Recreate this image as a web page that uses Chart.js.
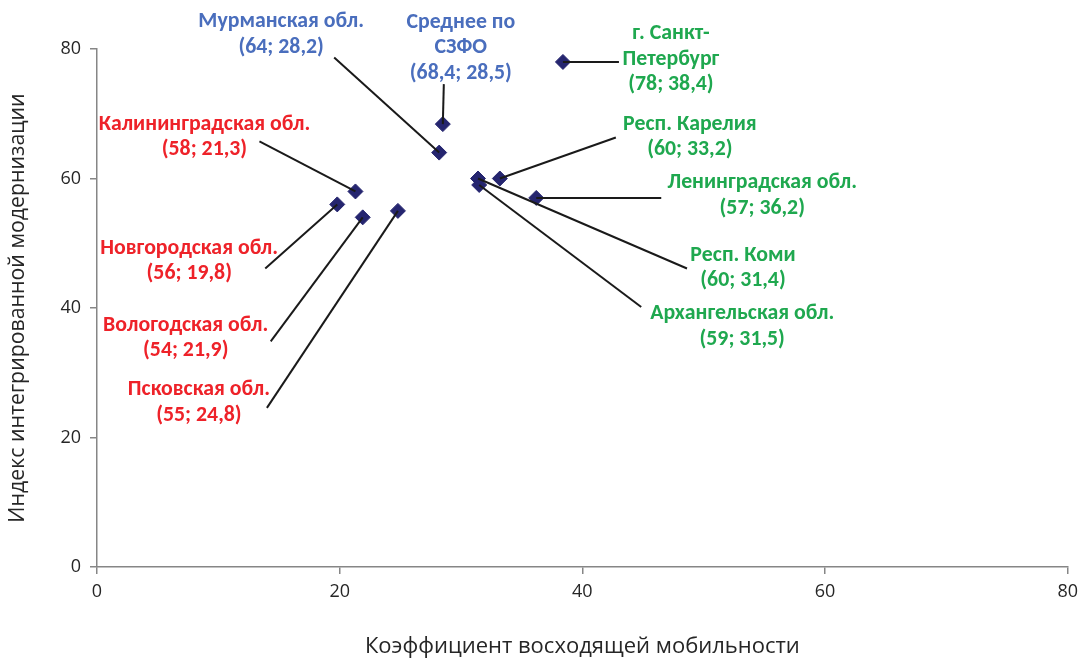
<!DOCTYPE html>
<html>
<head>
<meta charset="utf-8">
<script src="https://cdn.jsdelivr.net/npm/chart.js@4/dist/chart.umd.min.js"></script>
<style>
  html, body { margin: 0; padding: 0; background: #fff; }
  #wrap { width: 1085px; height: 658px; }
</style>
</head>
<body>
<div id="wrap"><canvas id="myChart" width="1085" height="658"></canvas></div>
<script>
// region names (\n = line break in the label)
var regions = ['Мурманская обл.', 'Среднее по\nСЗФО', 'г. Санкт-\nПетербург', 'Респ. Карелия',
  'Ленинградская обл.', 'Респ. Коми', 'Архангельская обл.', 'Калининградская обл.',
  'Новгородская обл.', 'Вологодская обл.', 'Псковская обл.'];
// coefficient of upward mobility (x)
var mobility = [28.2, 28.5, 38.4, 33.2, 36.2, 31.4, 31.5, 21.3, 19.8, 21.9, 24.8];
// integrated modernization index (y)
var modernization = [64, 68.4, 78, 60, 57, 60, 59, 58, 56, 54, 55];
// group of each region
var groups = ['avg', 'avg', 'high', 'high', 'high', 'high', 'high', 'low', 'low', 'low', 'low'];
var xTicks = [0, 20, 40, 60, 80];
var yTicks = [0, 20, 40, 60, 80];

var groupColors = { avg: '#4a6ebd', high: '#1fa84f', low: '#ee2229' };

// label placement: pixel offsets from the point (l = leader end, t = first text line centre)
var labelLayout = [
  { lx: -105, ly: -95, tx: -158, ty: -131 },
  { lx: 1, ly: -40, tx: 18, ty: -102 },
  { lx: 56, ly: 0, tx: 108, ty: -28 },
  { lx: 116, ly: -41, tx: 190, ty: -54 },
  { lx: 125, ly: 0, tx: 226, ty: -15 },
  { lx: 209, ly: 90, tx: 265, ty: 77 },
  { lx: 162, ly: 122, tx: 263, ty: 129 },
  { lx: -96, ly: -50, tx: -151, ty: -67 },
  { lx: -72, ly: 64, tx: -148, ty: 44 },
  { lx: -92, ly: 124, tx: -177, ty: 108 },
  { lx: -131, ly: 197, tx: -199, ty: 179 }
];

var LABEL_FONT = "Carlito, Lato, sans-serif";
var AXIS_FONT = "'Open Sans', sans-serif";

function fmt(v) { return String(v).replace('.', ','); }

var points = mobility.map(function(x, i) { return { x: x, y: modernization[i] }; });

var labelPlugin = {
  id: 'calloutLabels',
  afterDatasetsDraw: function(chart) {
    var c = chart.ctx;
    var xs = chart.scales.x, ys = chart.scales.y;
    c.save();
    for (var i = 0; i < points.length; i++) {
      var px = xs.getPixelForValue(points[i].x);
      var py = ys.getPixelForValue(points[i].y);
      var L = labelLayout[i];
      c.beginPath();
      c.strokeStyle = '#1a1a1a';
      c.lineWidth = 2;
      c.moveTo(px, py);
      c.lineTo(px + L.lx, py + L.ly);
      c.stroke();

      var lines = regions[i].split('\n');
      lines.push('(' + fmt(modernization[i]) + '; ' + fmt(mobility[i]) + ')');
      c.fillStyle = groupColors[groups[i]];
      c.font = 'bold 21.8px ' + LABEL_FONT;
      c.textAlign = 'center';
      c.textBaseline = 'middle';
      for (var k = 0; k < lines.length; k++) {
        c.fillText(lines[k], px + L.tx, py + L.ty + k * 25.5);
      }
    }
    c.restore();
  }
};

var ctx = document.getElementById('myChart').getContext('2d');
var myChart = new Chart(ctx, {
  type: 'scatter',
  data: {
    datasets: [{
      label: 'Регионы',
      data: points,
      pointStyle: 'rectRot',
      pointRadius: 7.5,
      pointHoverRadius: 7.5,
      backgroundColor: '#25256f',
      borderColor: '#25256f',
      borderWidth: 1
    }]
  },
  options: {
    responsive: false,
    animation: false,
    layout: { padding: { left: 0, right: 15, top: 49, bottom: 0 } },
    plugins: {
      legend: { display: false },
      tooltip: { enabled: false }
    },
    scales: {
      x: {
        type: 'linear',
        min: 0, max: 80,
        afterBuildTicks: function(s) { s.ticks = xTicks.map(function(v) { return { value: v }; }); },
        afterFit: function(s) { s.height = 91; },
        border: { color: '#868686', width: 1.5 },
        grid: { drawOnChartArea: false, drawTicks: true, tickLength: 7, color: '#868686', lineWidth: 1.5 },
        ticks: { color: '#262626', font: { family: AXIS_FONT, size: 18 }, padding: 7, maxRotation: 0 },
        title: {
          display: true,
          text: 'Коэффициент восходящей мобильности',
          color: '#262626',
          font: { family: AXIS_FONT, size: 22, lineHeight: 1 },
          padding: { top: 20, bottom: 0 }
        }
      },
      y: {
        type: 'linear',
        min: 0, max: 80,
        afterBuildTicks: function(s) { s.ticks = yTicks.map(function(v) { return { value: v }; }); },
        afterFit: function(s) { s.width = 97; },
        border: { color: '#868686', width: 1.5 },
        grid: { drawOnChartArea: false, drawTicks: true, tickLength: 7, color: '#868686', lineWidth: 1.5 },
        ticks: { color: '#262626', font: { family: AXIS_FONT, size: 18 }, padding: 9 },
        title: {
          display: true,
          text: 'Индекс интегрированной модернизации',
          color: '#262626',
          font: { family: AXIS_FONT, size: 21.3, lineHeight: 1 },
          padding: { top: 7, bottom: 10 }
        }
      }
    }
  },
  plugins: [labelPlugin]
});
</script>
</body>
</html>
